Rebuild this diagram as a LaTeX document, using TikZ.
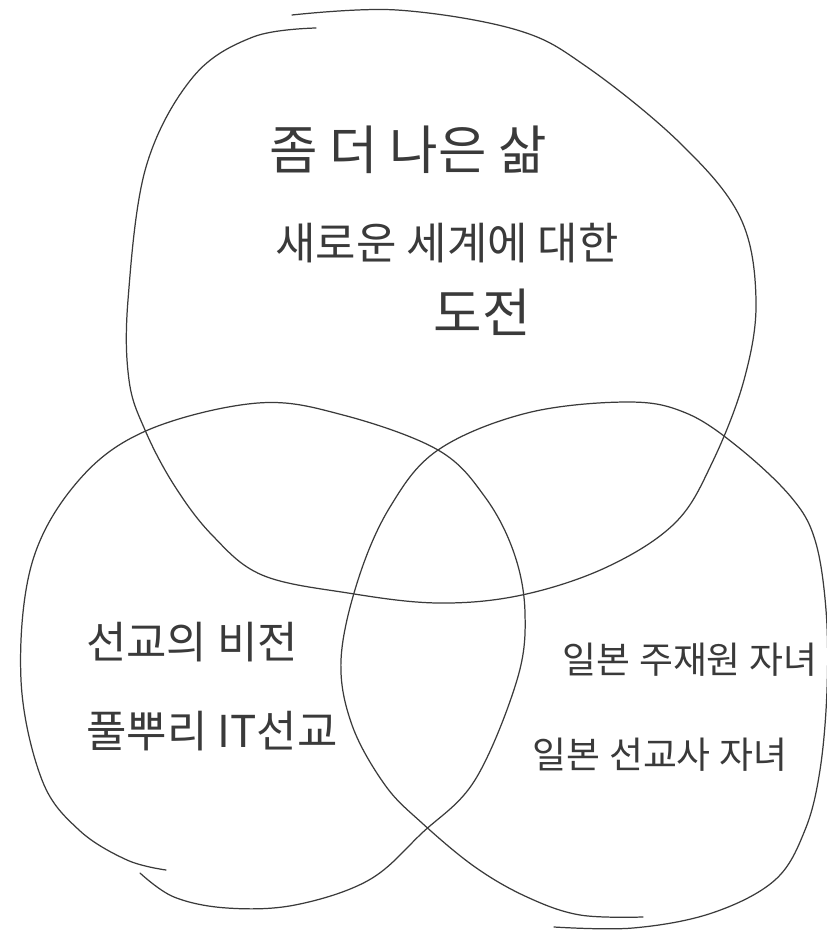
\documentclass[tikz,border=0pt]{standalone}
\usepackage{fontspec}
\usepackage{xcolor}
\usepackage{tikz}
\newfontfamily\cjk{Noto Sans CJK KR}
\definecolor{pencil}{HTML}{3A3A3A}

\begin{document}
\begin{tikzpicture}[
          x=0.02cm, y=-0.02cm,
          every node/.style={font=\cjk\fontsize{25}{30}\selectfont,text=pencil,inner sep=0pt},
          bigtxt/.style={font=\cjk\fontsize{30}{36}\selectfont},
          smalltxt/.style={font=\cjk\fontsize{21}{26}\selectfont},
          ring/.style={draw=pencil,line width=0.7pt,line cap=round,line join=round},
      ]
        \useasboundingbox (0,0) rectangle (827,933);

        % top set
        \draw[ring] plot[smooth,tension=0.6] coordinates {
          (316,28) (253,37) (193,77) (146,167) (128,300) (129,380) (145,430)
          (174,485) (212,535) (262,575) (348,593) (438,603) (522,595) (607,567)
          (675,523) (712,463) (744,380) (756,300) (740,217) (680,143) (587,67)
          (517,30) (397,10) (292,15)};

        % left set
        \draw[ring] plot[smooth,tension=0.6] coordinates {
          (140,873) (174,897) (227,908) (295,905) (369,880) (422,833) (475,780)
          (517,680) (525,613) (514,553) (485,497) (438,450) (343,415) (258,403)
          (148,430) (79,480) (32,563) (21,680) (42,780) (79,830) (127,860) (166,870)};

        % right set
        \draw[ring] plot[smooth,tension=0.6] coordinates {
          (554,927) (633,928) (712,913) (775,880) (805,830) (820,770) (827,690)
          (826,610) (815,540) (791,497) (738,447) (686,413) (628,402) (527,413)
          (438,450) (390,507) (358,580) (341,660) (352,725) (385,785) (422,823)
          (475,867) (527,897) (580,915) (643,917)};

        \node[bigtxt] (life) at (408,150) {좀 더 나은 삶};
        \node (world) at (447,243) {새로운 세계에 대한};
        \node[bigtxt] (chal) at (482,312) {도전};

        \node (vision) at (192,642) {선교의 비전};
        \node (grass) at (212,731) {풀뿌리 IT선교};

        \node[smalltxt] (expat) at (690,660) {일본 주재원 자녀};
        \node[smalltxt] (mkid) at (660,755) {일본 선교사 자녀};
      \end{tikzpicture}
\end{document}
